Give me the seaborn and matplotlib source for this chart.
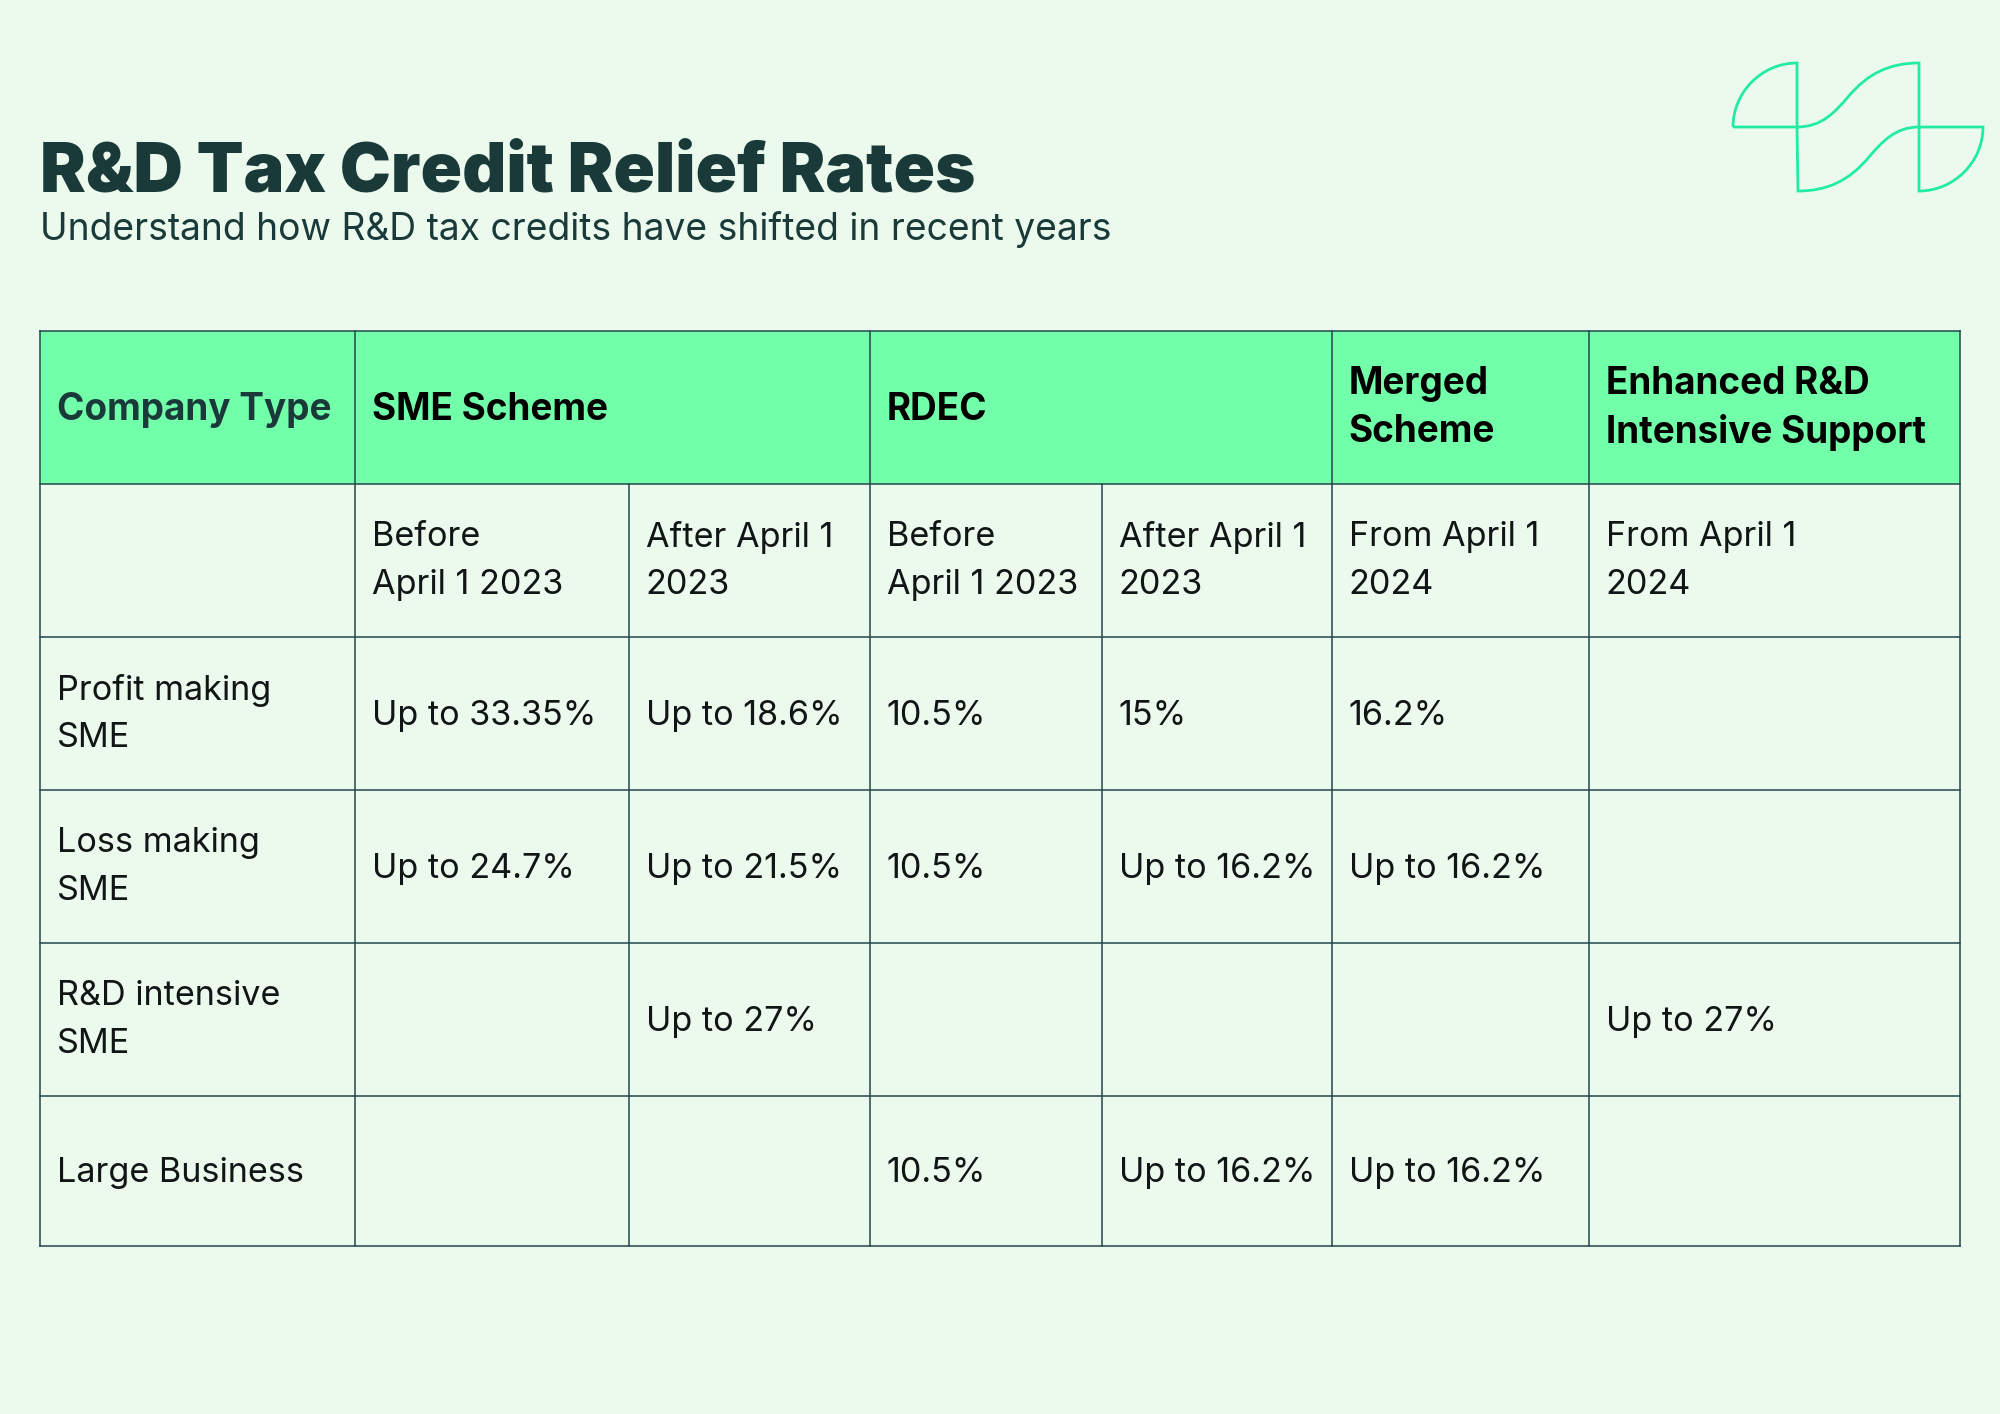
import numpy as np
import matplotlib
matplotlib.use("Agg")
import matplotlib.pyplot as plt
import seaborn as sns
from matplotlib.colors import ListedColormap
from matplotlib.path import Path
from matplotlib.patches import PathPatch

BG = "#ECFAEE"
HEADER = "#72FFAA"
DARK = "#1A3A3A"
LINE = "#24474D"
LOGO = "#22EBA3"

title = "R&D Tax Credit Relief Rates"
subtitle = "Understand how R&D tax credits have shifted in recent years"

# table content, one list per column
company_type = ["Company Type", "", "Profit making\nSME", "Loss making\nSME", "R&D intensive\nSME", "Large Business"]
sme_before = ["SME Scheme", "Before\nApril 1 2023", "Up to 33.35%", "Up to 24.7%", "", ""]
sme_after = ["", "After April 1\n2023", "Up to 18.6%", "Up to 21.5%", "Up to 27%", ""]
rdec_before = ["RDEC", "Before\nApril 1 2023", "10.5%", "10.5%", "", "10.5%"]
rdec_after = ["", "After April 1\n2023", "15%", "Up to 16.2%", "", "Up to 16.2%"]
merged = ["Merged\nScheme", "From April 1\n2024", "16.2%", "Up to 16.2%", "", "Up to 16.2%"]
enhanced = ["Enhanced R&D\nIntensive Support", "From April 1\n2024", "", "", "Up to 27%", ""]
columns = [company_type, sme_before, sme_after, rdec_before, rdec_after, merged, enhanced]

# header row is 1, the rest 0
row_fill = [1, 0, 0, 0, 0, 0]

# cell edges in pixels of the 2000x1414 picture
x_edges = np.array([40, 355, 629, 870, 1102, 1332, 1589, 1960], dtype=float)
y_edges = np.array([331, 484, 637, 790, 943, 1096, 1246], dtype=float)

plt.rcParams["font.family"] = ["Inter", "DejaVu Sans"]

fig = plt.figure(figsize=(20, 14.14), dpi=100, facecolor=BG)

ax = fig.add_axes([x_edges[0] / 2000, 1 - y_edges[-1] / 1414,
                   (x_edges[-1] - x_edges[0]) / 2000, (y_edges[-1] - y_edges[0]) / 1414])
fill = np.tile(np.array(row_fill)[:, None], (1, len(columns)))
sns.heatmap(fill, ax=ax, cmap=ListedColormap([BG, HEADER]), vmin=0, vmax=1, cbar=False, linewidths=0)

# uneven column widths and row heights
col_idx = np.arange(len(x_edges), dtype=float)
row_idx = np.arange(len(y_edges), dtype=float)
ax.set_xscale("function", functions=(lambda v: np.interp(v, col_idx, x_edges),
                                     lambda p: np.interp(p, x_edges, col_idx)))
ax.set_yscale("function", functions=(lambda v: np.interp(v, row_idx, y_edges),
                                     lambda p: np.interp(p, y_edges, row_idx)))
ax.set_xlim(0, 7)
ax.set_ylim(6, 0)
ax.set_xticks([])
ax.set_yticks([])
ax.minorticks_off()
ax.set_xlabel("")
ax.set_ylabel("")

# grid, SME and RDEC headers span two columns
for r in range(7):
    ax.plot([0, 7], [r, r], color=LINE, lw=1.1, clip_on=False, solid_capstyle="projecting")
for c in range(8):
    top = 1 if c in (2, 4) else 0
    ax.plot([c, c], [top, 6], color=LINE, lw=1.1, clip_on=False, solid_capstyle="projecting")

for c, col in enumerate(columns):
    for r, label in enumerate(col):
        if not label:
            continue
        color = "#101515"
        weight = "normal"
        size = 24.6
        spacing = 1.62
        if r == 0:
            weight = "bold"
            size = 26.6
            spacing = 1.42
            color = DARK if c == 0 else "black"
        dy = -0.5 if "\n" in label else -1.5
        ax.annotate(label, xy=(c, r + 0.5), xytext=(12, dy), textcoords="offset points",
                    ha="left", va="center", fontsize=size, fontweight=weight, color=color,
                    linespacing=spacing)

# overlay in picture pixels for heading and logo
over = fig.add_axes([0, 0, 1, 1], facecolor="none")
over.set_xlim(0, 2000)
over.set_ylim(1414, 0)
over.axis("off")
over.text(40, 192, title, fontsize=49.3, fontweight=900, color=DARK, va="baseline")
over.text(40, 240, subtitle, fontsize=26.8, color=DARK, va="baseline")

M, L, C = Path.MOVETO, Path.LINETO, Path.CURVE4
logo_shapes = [
    ([(1733, 127), (1733, 92), (1762, 63), (1797, 63), (1797, 127), (1733, 127)],
     [M, C, C, C, L, L]),
    ([(1797, 127), (1822, 127), (1835, 112), (1848, 97), (1868, 73), (1890, 63), (1919, 63),
      (1919, 127), (1895, 127), (1882, 142), (1869, 157), (1849, 181), (1827, 191), (1798, 191), (1797, 127)],
     [M, C, C, C, C, C, C, L, C, C, C, C, C, C, L]),
    ([(1919, 127), (1983, 127), (1983, 162), (1954, 191), (1919, 191), (1919, 127)],
     [M, L, C, C, C, L]),
]
for verts, codes in logo_shapes:
    over.add_patch(PathPatch(Path(verts, codes), fill=False, edgecolor=LOGO, lw=2.0))

fig.savefig("out.png", dpi=100, facecolor=BG)
